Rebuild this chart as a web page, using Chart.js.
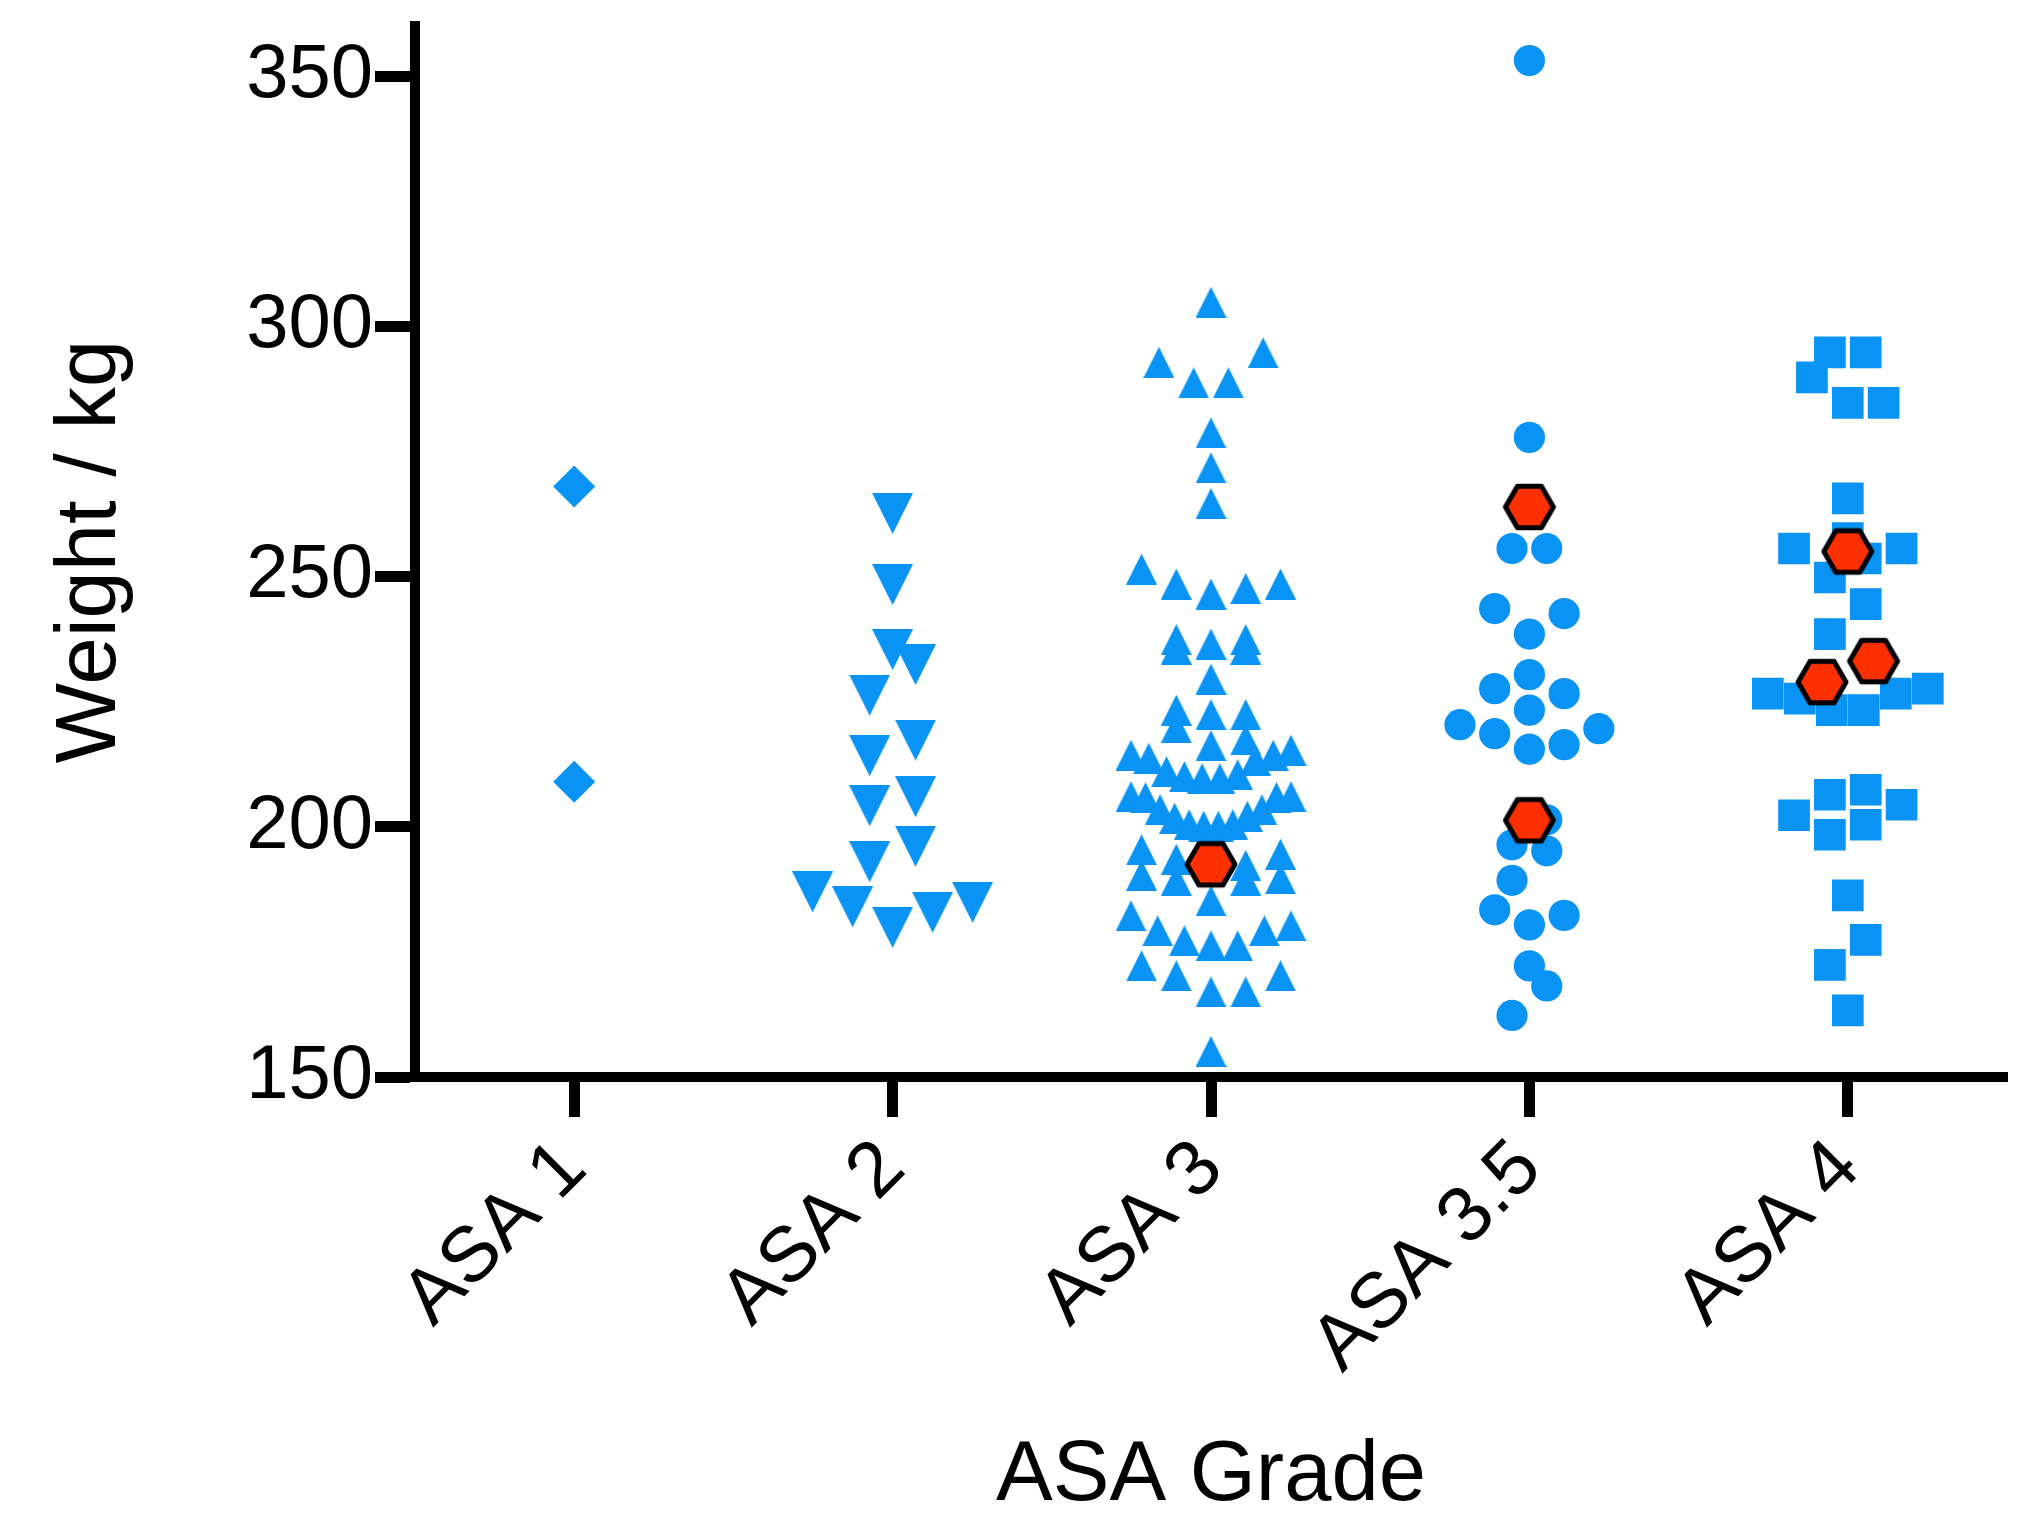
<!DOCTYPE html>
<html>
<head>
<meta charset="utf-8">
<script src="https://cdn.jsdelivr.net/npm/chart.js@4.4.1/dist/chart.umd.min.js"></script>
<style>
  html, body { margin: 0; padding: 0; background: #fff; }
  #wrap { width: 2034px; height: 1513px; }
</style>
</head>
<body>
<div id="wrap"><canvas id="chart" width="2034" height="1513"></canvas></div>
<script>
// values (kg)
const categories = ['ASA 1', 'ASA 2', 'ASA 3', 'ASA 3.5', 'ASA 4'];
const yTicks = [150, 200, 250, 300, 350];

const asa1 = [268, 209];
const asa2 = [262.6, 248.4, 232.4, 235.4, 226.3, 217.3, 214.2, 206.0, 204.2, 196.1, 193.0,
  187.0, 184.0, 179.9, 182.9, 184.9];
const asa3 = [304.8, 294.7, 292.8, 288.7, 288.7, 278.7, 271.7, 264.6, 251.5, 248.5, 246.5,
  247.6, 248.5, 237.4, 236.5, 235.5, 235.5, 237.4, 229.5, 222.4, 222.4, 223.3, 219.8, 217.4,
  216.2, 215.3, 214.3, 213.3, 213.7, 214.3, 211.0, 210.4, 209.6, 209.6, 210.0, 206.0, 206.0,
  205.8, 205.8, 203.4, 203.4, 201.7, 202.1, 200.4, 200.1, 200.1, 200.4, 194.5, 192.3, 190.3,
  189.3, 189.3, 189.6, 192.3, 193.5, 195.4, 185.2, 182.2, 179.2, 179.2, 180.2, 177.2, 176.2,
  176.2, 170.2, 172.2, 170.2, 167.0, 167.0, 155.1];
const asa35 = [353.1, 277.8, 255.6, 255.6, 243.6, 242.6, 238.5, 227.6, 226.6, 230.4, 223.3,
  220.4, 218.6, 215.5, 216.4, 219.6, 201.4, 196.4, 195.2, 189.3, 180.4, 182.3, 183.4, 172.2,
  168.2, 162.3];
const asa4 = [294.8, 294.8, 289.8, 284.7, 284.7, 265.6, 255.6, 253.6, 255.6, 257.7, 249.8,
  244.5, 238.5, 227.6, 226.6, 223.3, 223.3, 225.6, 226.6, 206.4, 202.3, 198.4, 200.4, 204.4,
  207.4, 186.3, 177.4, 172.4, 163.3];
// red hexagons, per group
const flagged = [[], [], [192.5], [263.9, 201.3], [255.0, 233.1, 228.9]];

const groups = [asa1, asa2, asa3, asa35, asa4];

const BLUE = '#0993F4';
const RED = '#FF3000';
const FONT = "'Liberation Sans', Arial, Helvetica, sans-serif";

function marker(w, h, draw) {
  const c = document.createElement('canvas');
  c.width = w; c.height = h;
  draw(c.getContext('2d'), w, h);
  return c;
}
const triUp = marker(31, 31, (g, w, h) => {
  g.fillStyle = BLUE; g.beginPath();
  g.moveTo(w / 2, 0); g.lineTo(w, h); g.lineTo(0, h); g.closePath(); g.fill();
});
const triDown = marker(41, 41, (g, w, h) => {
  g.fillStyle = BLUE; g.beginPath();
  g.moveTo(0, 0); g.lineTo(w, 0); g.lineTo(w / 2, h); g.closePath(); g.fill();
});
const hexagon = marker(56, 52, (g, w, h) => {
  const r = 24, cx = w / 2, cy = h / 2;
  g.beginPath();
  for (let k = 0; k < 6; k++) {
    const a = k * Math.PI / 3;
    g.lineTo(cx + r * Math.cos(a), cy + r * Math.sin(a));
  }
  g.closePath();
  g.fillStyle = RED; g.fill();
  g.lineWidth = 5; g.lineJoin = 'round'; g.strokeStyle = '#000'; g.stroke();
});

// symbol look per group
const styles = [
  {pointStyle: 'rectRot', pointRadius: 21, size: 42},
  {pointStyle: triDown, pointRadius: 20, size: 41},
  {pointStyle: triUp, pointRadius: 16, size: 31},
  {pointStyle: 'circle', pointRadius: 15.6, size: 31},
  {pointStyle: 'rect', pointRadius: 22.4, size: 32}
];

// Prism-like column scatter: rows of nearby values spread out from the centre
function swarm(values, symPx, pxUnit, maxHalf) {
  const order = values.map((v, i) => i).sort((a, b) => values[a] - values[b]);
  const rows = [];
  let row = null;
  order.forEach(i => {
    if (!row || (values[i] - values[row[0]]) * pxUnit >= symPx) { row = []; rows.push(row); }
    row.push(i);
  });
  const off = values.map(() => 0);
  rows.forEach(r => {
    const n = r.length;
    const step = n > 1 ? Math.min(symPx * 1.12, 2 * maxHalf / (n - 1)) : 0;
    r.forEach((i, k) => {
      let slot;
      if (n % 2) slot = k === 0 ? 0 : (k % 2 ? (k + 1) / 2 : -k / 2);
      else slot = k % 2 === 0 ? -(k / 2 + 0.5) : (k - 1) / 2 + 0.5;
      off[i] = slot * step;
    });
  });
  return off;
}

const datasets = groups.map((vals, gi) => ({
  label: categories[gi],
  data: vals.map(v => ({x: gi + 1, y: v})),
  pointStyle: styles[gi].pointStyle,
  pointRadius: styles[gi].pointRadius,
  backgroundColor: BLUE,
  borderWidth: 0,
  pointBorderWidth: 0,
  showLine: false,
  order: 1
}));
datasets.push({
  label: 'flagged',
  data: flagged.flatMap((vals, gi) => vals.map(v => ({x: gi + 1, y: v}))),
  pointStyle: hexagon,
  pointRadius: 25,
  backgroundColor: RED,
  showLine: false,
  order: 0
});

const chart = new Chart(document.getElementById('chart'), {
  type: 'scatter',
  data: {datasets: datasets},
  options: {
    responsive: false,
    animation: false,
    events: [],
    devicePixelRatio: 1,
    layout: {padding: {top: 22, right: 27, left: 0, bottom: 0}},
    plugins: {legend: {display: false}, tooltip: {enabled: false}},
    scales: {
      x: {
        type: 'linear', min: 0.5, max: 5.5,
        afterBuildTicks: s => { s.ticks = categories.map((c, i) => ({value: i + 1})); },
        afterFit: s => { s.height = 1513 - 1077; s.paddingLeft = 0; s.paddingRight = 0; },
        ticks: {
          autoSkip: false, minRotation: 45, maxRotation: 45, padding: 6,
          color: '#000', font: {family: FONT, size: 78},
          callback: (v, i) => categories[i]
        },
        grid: {display: true, drawOnChartArea: false, drawTicks: true, tickLength: 40, tickWidth: 11, tickColor: '#000'},
        border: {display: true, width: 10, color: '#000'},
        title: {display: true, text: 'ASA Grade', color: '#000',
          font: {family: FONT, size: 85, lineHeight: 0.85}, padding: {top: 0, bottom: 0}}
      },
      y: {
        type: 'linear', min: 150, max: 360,
        afterBuildTicks: s => { s.ticks = yTicks.map(v => ({value: v})); },
        afterFit: s => { s.width = 415; s.paddingTop = 0; s.paddingBottom = 0; },
        ticks: {color: '#000', padding: 2, font: {family: FONT, size: 76}},
        grid: {display: true, drawOnChartArea: false, drawTicks: true, tickLength: 40, tickWidth: 11, tickColor: '#000'},
        border: {display: true, width: 10, color: '#000'},
        title: {display: true, text: 'Weight / kg', color: '#000',
          font: {family: FONT, size: 85, lineHeight: 1}, padding: {top: 49, bottom: 0}}
      }
    }
  }
});

// spread the points sideways once the scales know their pixel sizes
const xs = chart.scales.x, ys = chart.scales.y;
const pxCat = xs.getPixelForValue(2) - xs.getPixelForValue(1);
const pxUnit = ys.getPixelForValue(150) - ys.getPixelForValue(151);
groups.forEach((vals, gi) => {
  const off = swarm(vals, styles[gi].size, pxUnit, 80);
  chart.data.datasets[gi].data = vals.map((v, i) => ({x: gi + 1 + off[i] / pxCat, y: v}));
});
chart.data.datasets[5].data = flagged.flatMap((vals, gi) => {
  const off = swarm(vals, 46, pxUnit, 80);
  return vals.map((v, i) => ({x: gi + 1 + off[i] / pxCat, y: v}));
});
chart.update('none');
</script>
</body>
</html>
